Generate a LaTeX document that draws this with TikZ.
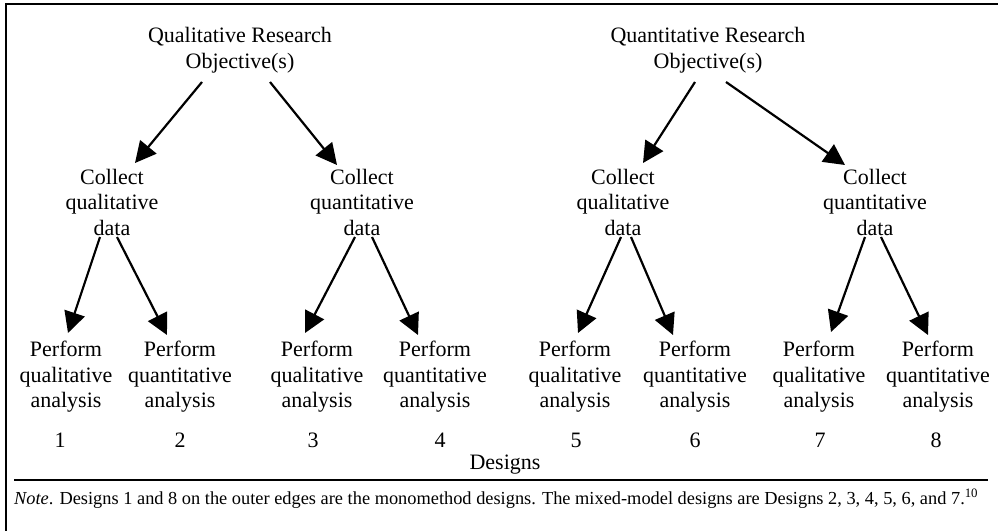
\documentclass[tikz,border=0pt]{standalone}
\usepackage{fontspec}
\setmainfont{Liberation Serif}
\usetikzlibrary{arrows.meta,calc}
\begin{document}
\begin{tikzpicture}[x=1pt,y=-1pt,
  lbl/.style={inner sep=0pt,align=center,font=\fontsize{22}{25.5}\selectfont},
  num/.style={inner sep=0pt,font=\fontsize{22}{25.5}\selectfont},
  arr/.style={line width=2.2pt,-{Triangle[length=21pt,width=21pt]}},
  frame/.style={line width=2.5pt}]
\useasboundingbox (0,0) rectangle (998,530);
% frame (only left and top visible)
\draw[frame] (6,540) -- (6,4) -- (1005,4);
% top nodes
\node[lbl] (qlr) at (240,50) {Qualitative Research\\Objective(s)};
\node[lbl] (qnr) at (708,50) {Quantitative Research\\Objective(s)};
% collect nodes
\node[lbl] (c1) at (112,202) {Collect\\qualitative\\data};
\node[lbl] (c2) at (362,202) {Collect\\quantitative\\data};
\node[lbl] (c3) at (623,202) {Collect\\qualitative\\data};
\node[lbl] (c4) at (875,202) {Collect\\quantitative\\data};
% perform nodes
\node[lbl] (p1) at (66,377) {Perform\\qualitative\\analysis};
\node[lbl] (p2) at (180,377) {Perform\\quantitative\\analysis};
\node[lbl] (p3) at (317,377) {Perform\\qualitative\\analysis};
\node[lbl] (p4) at (435,377) {Perform\\quantitative\\analysis};
\node[lbl] (p5) at (575,377) {Perform\\qualitative\\analysis};
\node[lbl] (p6) at (695,377) {Perform\\quantitative\\analysis};
\node[lbl] (p7) at (819,377) {Perform\\qualitative\\analysis};
\node[lbl] (p8) at (938,377) {Perform\\quantitative\\analysis};
% numbers
\node[num] (n1) at (60,440) {1};
\node[num] (n2) at (180,440) {2};
\node[num] (n3) at (313,440) {3};
\node[num] (n4) at (440,440) {4};
\node[num] (n5) at (576,440) {5};
\node[num] (n6) at (695,440) {6};
\node[num] (n7) at (820,440) {7};
\node[num] (n8) at (936,440) {8};
\node[num] (des) at (505,465) {Designs};
% separator
\coordinate (sepL) at (14,480);
\coordinate (sepR) at (988,480);
\draw[line width=1.2pt] (sepL) -- (sepR);
% note
\node[inner sep=0pt,anchor=west] (note) at (14,499) {\resizebox{964pt}{!}{\fontsize{16}{19}\selectfont\textit{Note}. Designs 1 and 8 on the outer edges are the monomethod designs. The mixed-model designs are Designs 2, 3, 4, 5, 6, and 7.\textsuperscript{10}}};
% arrows level 1
\draw[arr] ($(qlr)+(-38,32)$) -- ($(c1)+(23,-39)$);
\draw[arr] ($(qlr)+(30,32)$) -- ($(c2)+(-25,-37)$);
\draw[arr] ($(qnr)+(-13,32)$) -- ($(c3)+(20,-39)$);
\draw[arr] ($(qnr)+(18,32)$) -- ($(c4)+(-30,-37)$);
% arrows level 2
\draw[arr] ($(c1)+(-12,35)$) -- ($(p1)+(2,-44)$);
\draw[arr] ($(c1)+(5,35)$) -- ($(p2)+(-13,-42)$);
\draw[arr] ($(c2)+(-7,35)$) -- ($(p3)+(-12,-44)$);
\draw[arr] ($(c2)+(10,35)$) -- ($(p4)+(-17,-42)$);
\draw[arr] ($(c3)+(-2,35)$) -- ($(p5)+(3,-44)$);
\draw[arr] ($(c3)+(8,35)$) -- ($(p6)+(-22,-42)$);
\draw[arr] ($(c4)+(-10,35)$) -- ($(p7)+(12,-45)$);
\draw[arr] ($(c4)+(6,35)$) -- ($(p8)+(-10,-42)$);
\end{tikzpicture}
\end{document}
